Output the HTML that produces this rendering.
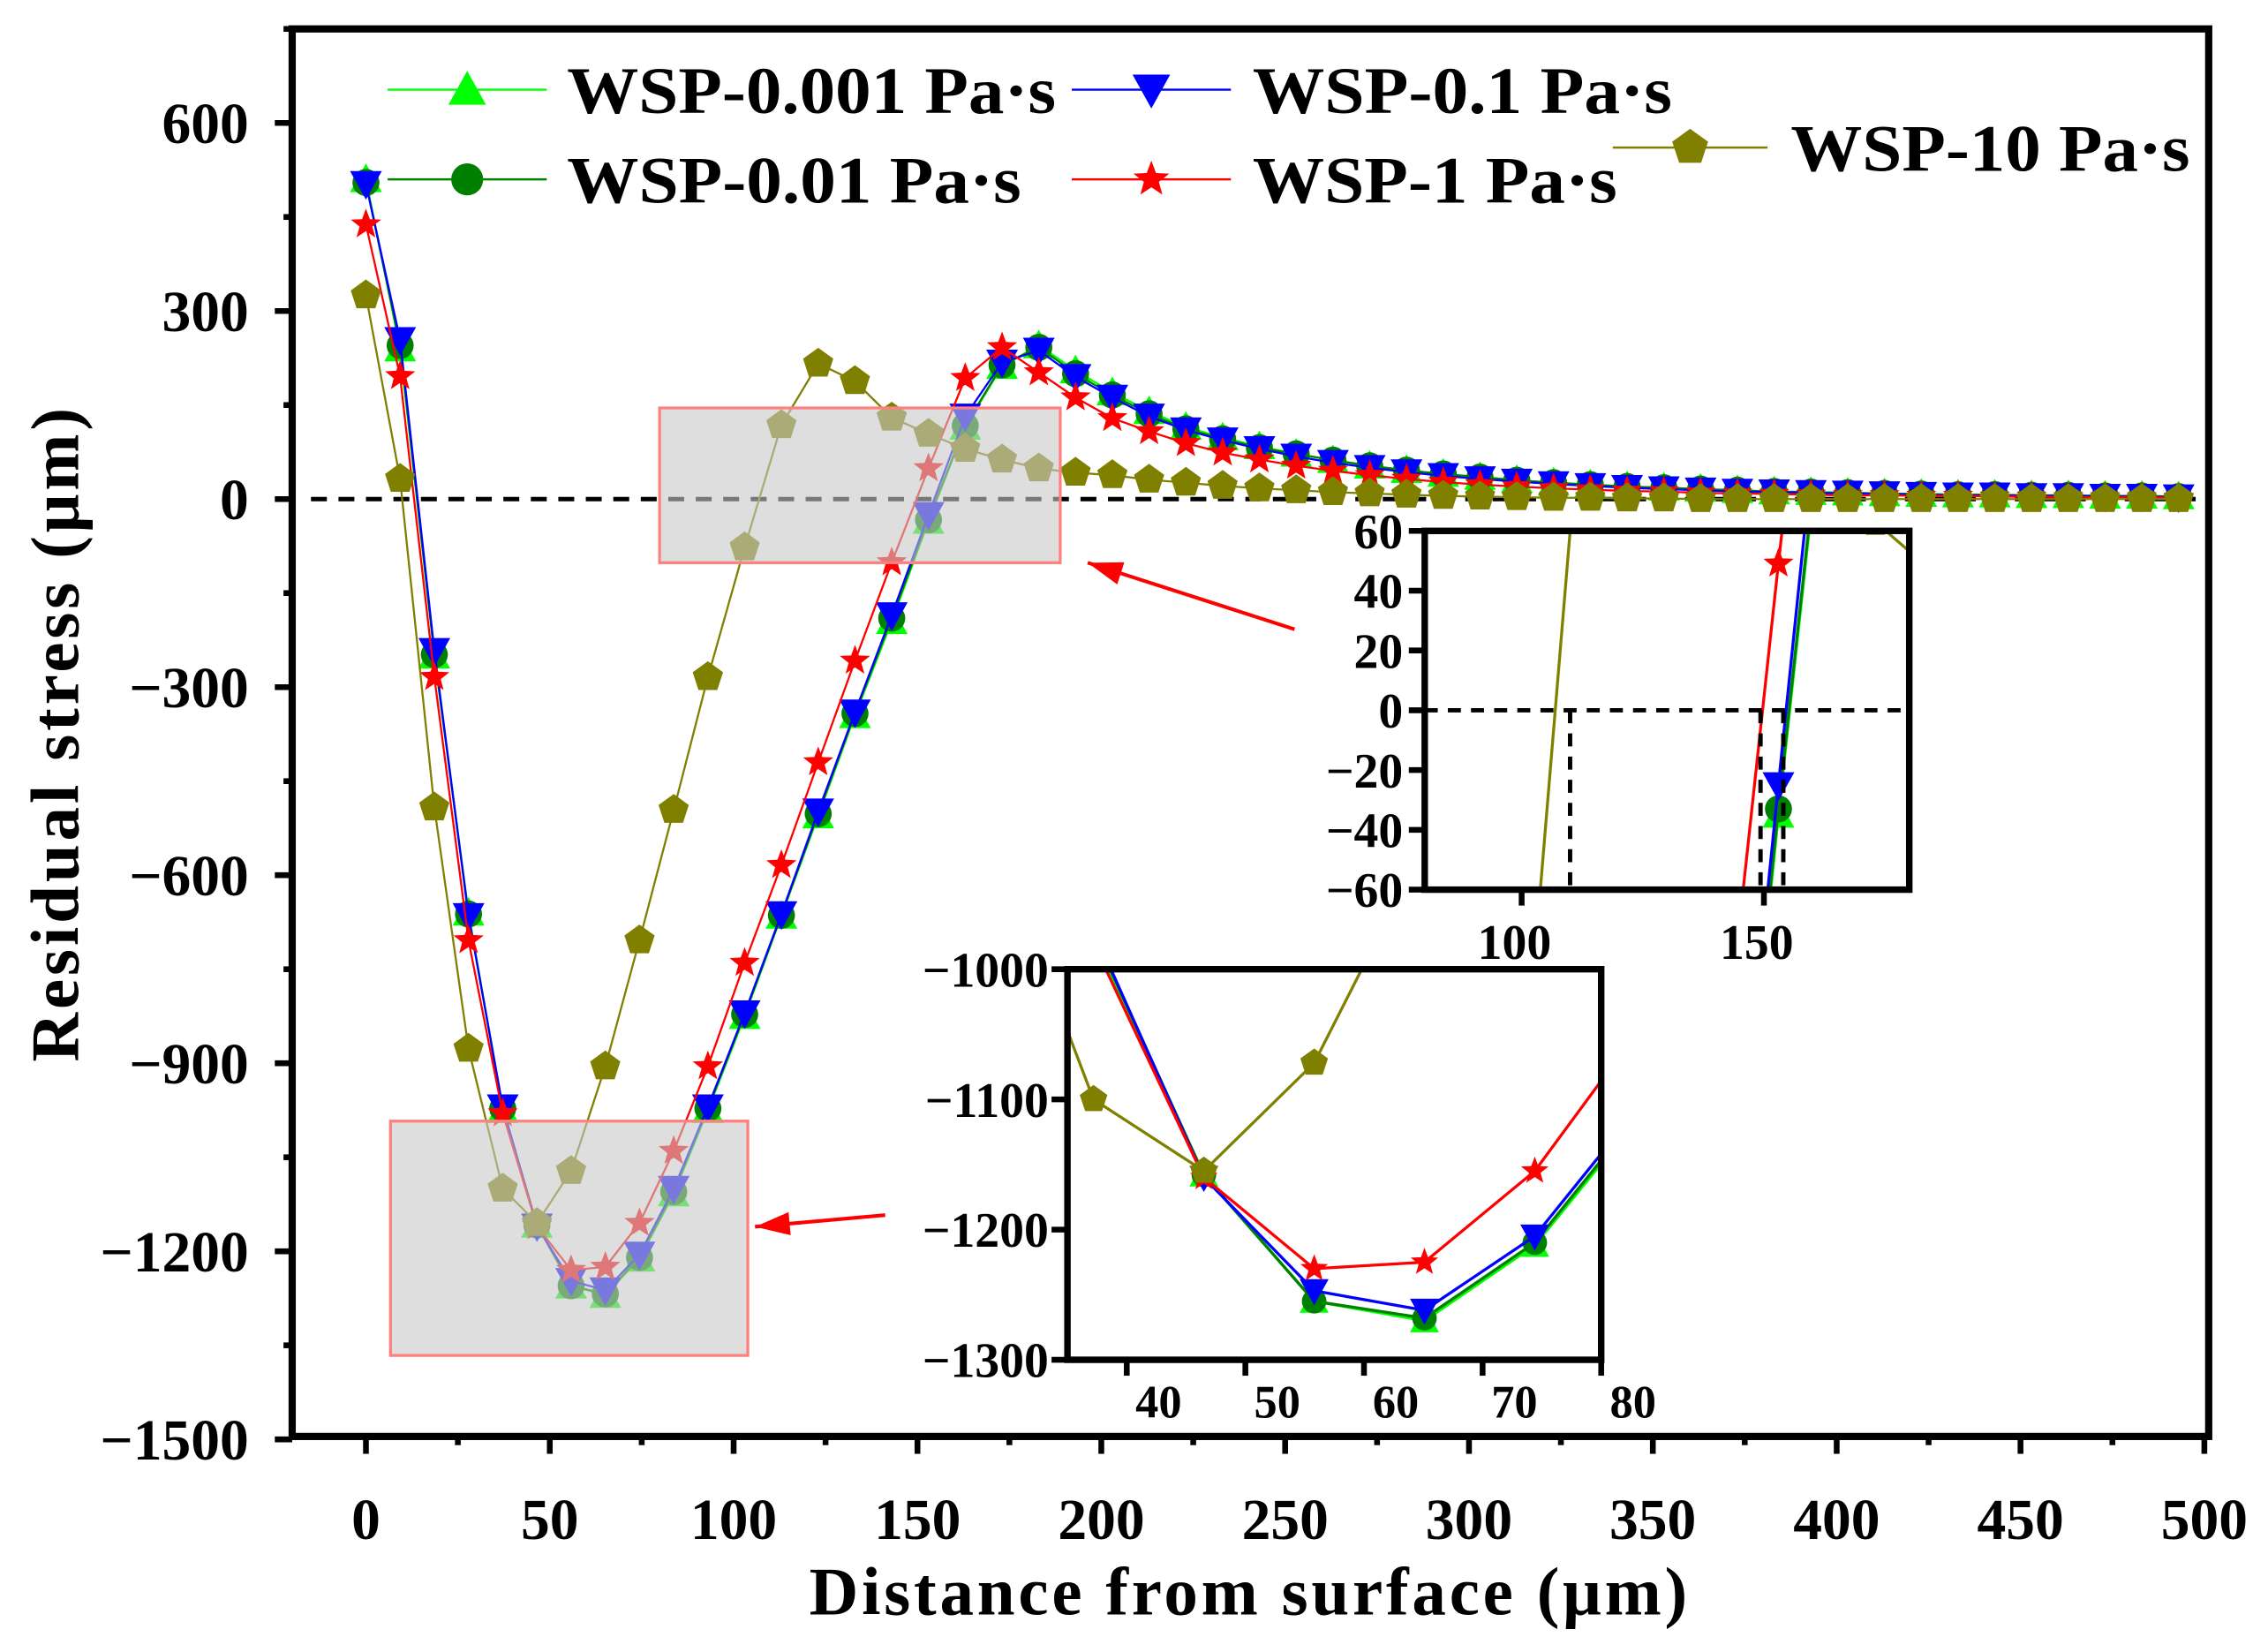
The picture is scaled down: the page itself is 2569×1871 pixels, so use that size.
<!DOCTYPE html>
<html><head><meta charset="utf-8"><style>
html,body{margin:0;padding:0;background:#fff;overflow:hidden;width:2569px;height:1871px}
svg{display:block}
text{font-family:"Liberation Serif","DejaVu Serif",serif;font-weight:bold;fill:#000}
</style></head><body>
<svg id="chart" width="2569" height="1871" viewBox="0 0 1568 1142" preserveAspectRatio="none" xmlns="http://www.w3.org/2000/svg">
<defs>
<clipPath id="clipMain"><rect x="202" y="20" width="1325" height="973"/></clipPath>
<clipPath id="clipIn1"><rect x="985" y="367" width="335" height="248"/></clipPath>
<clipPath id="clipIn2"><rect x="738" y="670" width="369" height="270"/></clipPath>
</defs>
<g id="mainG"></g>
<g id="in1G"></g>
<g id="in2G"></g>
<g id="legG"></g>
</svg>
<script>
const depths = [0,9.3,18.6,27.9,37.2,46.5,55.8,65.1,74.4,83.7,93,103,113,123,133,143,153,163,173,183,193,203,213,223,233,243,253,263,273,283,293,303,313,323,333,343,353,363,373,383,393,403,413,423,433,443,453,463,473,483,493];
const s0001 = [510,240,-250,-660,-975,-1158,-1255,-1270,-1212,-1108,-975,-825,-665,-505,-345,-195,-35,115,212,245,205,170,140,115,98,84,72,62,53,46,40,35,30,26,23,20,18,16,14,12,11,10,9,8,7,7,6,6,5,5,4];
const s001 = [505,245,-248,-662,-972,-1158,-1255,-1268,-1210,-1105,-972,-822,-664,-502,-342,-190,-33,117,214,242,200,166,136,112,96,82,72,62,53,46,40,35,30,26,23,20,18,16,14,12,11,10,9,8,7,7,6,6,5,5,4];
const s01 = [503,254,-242,-665,-970,-1160,-1247,-1262,-1205,-1100,-970,-820,-662,-498,-340,-185,-25,132,218,237,195,162,132,110,94,80,68,58,50,43,37,32,28,24,21,18,16,14,12,11,10,9,8,7,6,6,5,5,4,4,3];
const s1 = [438,196,-284,-704,-980,-1160,-1230,-1225,-1155,-1040,-905,-740,-584,-420,-258,-101,49,193,242,202,162,129,108,89,74,63,53,45,38,32,27,23,20,17,15,13,12,10,9,8,7,6,6,5,5,4,4,3,3,3,2];
const s10 = [325,32,-492,-877,-1100,-1155,-1072,-905,-704,-496,-284,-77,118,216,188,130,104,80,63,49,42,38,31,26,21,17,14,11,9,7,5,4,3,2,2,1,1,0,0,0,0,0,0,0,0,0,0,0,0,0,0];
const xTicks = [0,50,100,150,200,250,300,350,400,450,500];
const yTicks = [600,300,0,-300,-600,-900,-1200,-1500];
const in1XTicks = [100,150];
const in1YTicks = [60,40,20,0,-20,-40,-60];
const in2XTicks = [40,50,60,70,80];
const in2YTicks = [-1000,-1100,-1200,-1300];
const crossX = [110,149.3,154];

const NS="http://www.w3.org/2000/svg";
function mk(tag,attrs,parent){const e=document.createElementNS(NS,tag);for(const k in attrs)e.setAttribute(k,attrs[k]);parent.appendChild(e);return e;}
const X=v=>253+v*2.542, Y=v=>345-v*130/300;
const X1=v=>985+(v-80)*3.35, Y1=v=>491-v*248/120;
const X2=v=>738+(v-35)*8.2, Y2=v=>670+(-1000-v)*0.9;

function markerPath(type,x,y,r){
  if(type==='tri') return `M${x},${y-r}L${x+r},${y+r*0.8}L${x-r},${y+r*0.8}Z`;
  if(type==='itri') return `M${x},${y+r}L${x+r},${y-r*0.8}L${x-r},${y-r*0.8}Z`;
  if(type==='circ'){return `M${x-r*0.85},${y}a${r*0.85},${r*0.85} 0 1,0 ${r*1.7},0a${r*0.85},${r*0.85} 0 1,0 ${-r*1.7},0`;}
  if(type==='star'){let p='';for(let i=0;i<10;i++){const a=-Math.PI/2+i*Math.PI/5;const rr=i%2?r*0.42:r;p+=(i?'L':'M')+(x+rr*Math.cos(a)).toFixed(1)+','+(y+rr*Math.sin(a)).toFixed(1);}return p+'Z';}
  if(type==='pent'){let p='';for(let i=0;i<5;i++){const a=-Math.PI/2+i*2*Math.PI/5;p+=(i?'L':'M')+(x+r*Math.cos(a)).toFixed(1)+','+(y+r*Math.sin(a)).toFixed(1);}return p+'Z';}
}
const series=[
 {d:s0001,c:'#00ff00',m:'tri',name:'wsp-0001'},
 {d:s001,c:'#008000',m:'circ',name:'wsp-001'},
 {d:s01,c:'#0000ff',m:'itri',name:'wsp-01'},
 {d:s1,c:'#ff0000',m:'star',name:'wsp-1'},
 {d:s10,c:'#808000',m:'pent',name:'wsp-10'}
];
function drawSeries(g,fx,fy,r,lw,prefix,clip){
  const sg=mk('g',{'clip-path':`url(#${clip})`},g);
  series.forEach(s=>{
    const pts=s.d.map((v,i)=>fx(depths[i]).toFixed(1)+','+fy(v).toFixed(1)).join(' ');
    const pl=mk('polyline',{points:pts,fill:'none',stroke:s.c,'stroke-width':lw},sg);
    
    
    s.d.forEach((v,i)=>{
      const m=mk('path',{d:markerPath(s.m,fx(depths[i]),fy(v),r),fill:s.c},sg);
      
      
    });
  });
}
function txt(g,x,y,str,size,anchor,name){
  const t=mk('text',{x:x,y:y,'font-size':size,'text-anchor':anchor},g);t.textContent=str;
  
  
  return t;
}

// MAIN
const mg=document.getElementById('mainG');
const zl=mk('line',{x1:215,y1:Y(0),x2:1525,y2:Y(0),stroke:'#000','stroke-width':3,'stroke-dasharray':'11,8'},mg);


drawSeries(mg,X,Y,11,1.4,'main-','clipMain');
[[456,282,277,107],[270,775,247,162]].forEach((r,i)=>{
  const e=mk('rect',{x:r[0],y:r[1],width:r[2],height:r[3],fill:'#c8c8c8','fill-opacity':0.6,stroke:'#ff8080','stroke-width':2},mg);
  
  
});
[[895,435,752,389],[612,840,522,848]].forEach((a,i)=>{
  const ag=mk('g',{},mg);
  
  
  mk('line',{x1:a[0],y1:a[1],x2:a[2],y2:a[3],stroke:'#ff0000','stroke-width':2.5},ag);
  const ang=Math.atan2(a[1]-a[3],a[0]-a[2]);const L=24,W=8;
  const bx=a[2]+L*Math.cos(ang),by=a[3]+L*Math.sin(ang);
  mk('path',{d:`M${a[2]},${a[3]}L${bx+W*Math.sin(ang)},${by-W*Math.cos(ang)}L${bx-W*Math.sin(ang)},${by+W*Math.cos(ang)}Z`,fill:'#ff0000'},ag);
});
const fr=mk('rect',{x:202,y:20,width:1325,height:973,fill:'none',stroke:'#000','stroke-width':5},mg);


xTicks.forEach((v,i)=>{
  mk('line',{x1:X(v),y1:993,x2:X(v),y2:1005,stroke:'#000','stroke-width':4},mg);
  if(i<xTicks.length-1) mk('line',{x1:X(v+25),y1:993,x2:X(v+25),y2:999,stroke:'#000','stroke-width':4},mg);
  txt(mg,X(v),1064,String(v),40,'middle','x-tick-label');
});
yTicks.forEach((v,i)=>{
  mk('line',{x1:190,y1:Y(v),x2:202,y2:Y(v),stroke:'#000','stroke-width':4},mg);
  if(i<yTicks.length-1) mk('line',{x1:196,y1:Y(v-150),x2:202,y2:Y(v-150),stroke:'#000','stroke-width':4},mg);
  txt(mg,172,Y(v)+14,(v<0?'\u2212':'')+Math.abs(v),40,'end','y-tick-label');
});
mk('line',{x1:196,y1:Y(750),x2:202,y2:Y(750),stroke:'#000','stroke-width':4},mg);
const xt=txt(mg,863,1116,'Distance from surface (\u03bcm)',47,'middle','x-axis-title');xt.setAttribute('textLength','607');
const yt=txt(mg,0,0,'Residual stress (\u03bcm)',47,'middle','y-axis-title');
yt.setAttribute('transform','translate(54,508) rotate(-90)');yt.setAttribute('textLength','452');

// INSET 1
const g1=document.getElementById('in1G');
mk('rect',{x:985,y:367,width:335,height:248,fill:'#fff'},g1);
drawSeries(g1,X1,Y1,11,2,'inset1-','clipIn1');
const d1=mk('g',{stroke:'#000','stroke-width':3,'stroke-dasharray':'9,7'},g1);
mk('line',{x1:985,y1:Y1(0),x2:1320,y2:Y1(0)},d1);
crossX.forEach(v=>{mk('line',{x1:X1(v),y1:Y1(0),x2:X1(v),y2:615},d1);});
mk('rect',{x:985,y:367,width:335,height:248,fill:'none',stroke:'#000','stroke-width':4.5},g1);
in1XTicks.forEach(v=>{mk('line',{x1:X1(v),y1:615,x2:X1(v),y2:626,stroke:'#000','stroke-width':4},g1);txt(g1,X1(v)-5,663,String(v),34,'middle','inset1-x-tick-label');});
in1YTicks.forEach(v=>{mk('line',{x1:974,y1:Y1(v),x2:985,y2:Y1(v),stroke:'#000','stroke-width':4},g1);txt(g1,970,Y1(v)+12,(v<0?'\u2212':'')+Math.abs(v),34,'end','inset1-y-tick-label');});

// INSET 2
const g2=document.getElementById('in2G');
mk('rect',{x:738,y:670,width:369,height:270,fill:'#fff'},g2);
drawSeries(g2,X2,Y2,10,2,'inset2-','clipIn2');
mk('rect',{x:738,y:670,width:369,height:270,fill:'none',stroke:'#000','stroke-width':4.5},g2);
in2XTicks.forEach(v=>{mk('line',{x1:X2(v),y1:940,x2:X2(v),y2:951,stroke:'#000','stroke-width':4},g2);txt(g2,X2(v)+22,980,String(v),32,'middle','inset2-x-tick-label');});
in2YTicks.forEach(v=>{mk('line',{x1:727,y1:Y2(v),x2:738,y2:Y2(v),stroke:'#000','stroke-width':4},g2);txt(g2,725,Y2(v)+12,'\u2212'+Math.abs(v),34,'end','inset2-y-tick-label');});

// LEGEND
const lg=document.getElementById('legG');
const legItems=[
 {s:0,x1:268,x2:378,y:62,tx:392,label:'WSP-0.001 Pa\u00b7s',w:338},
 {s:1,x1:268,x2:378,y:124,tx:392,label:'WSP-0.01 Pa\u00b7s',w:314},
 {s:2,x1:741,x2:851,y:62,tx:866,label:'WSP-0.1 Pa\u00b7s',w:290},
 {s:3,x1:741,x2:851,y:124,tx:866,label:'WSP-1 Pa\u00b7s',w:252},
 {s:4,x1:1115,x2:1222,y:102,tx:1238,label:'WSP-10 Pa\u00b7s',w:276}
];
legItems.forEach(it=>{
  const s=series[it.s];
  const eg=mk('g',{},lg);
  
  
  mk('line',{x1:it.x1,y1:it.y,x2:it.x2,y2:it.y,stroke:s.c,'stroke-width':1.5},eg);
  const cx=(it.x1+it.x2)/2;
  mk('path',{d:markerPath(s.m,cx,it.y,13),fill:s.c},eg);
  const t=txt(eg,it.tx,it.y+16,it.label,46,'start','legend-label');
  t.setAttribute('textLength',it.w);t.setAttribute('lengthAdjust','spacingAndGlyphs');
});
</script>
</body></html>
